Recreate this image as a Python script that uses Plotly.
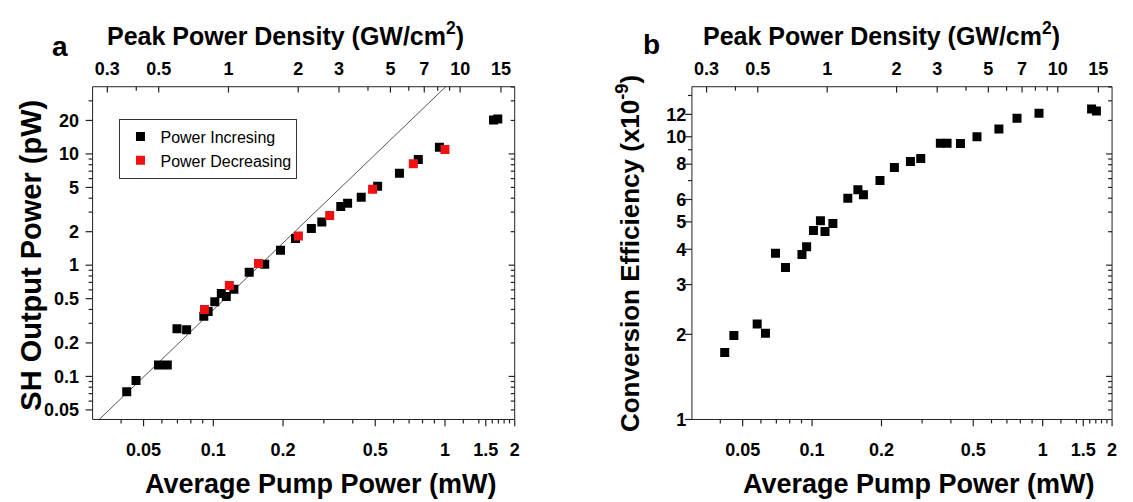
import numpy as np
import plotly.graph_objects as go

# ---------------- data ----------------
pump_inc = [0.0423, 0.0464, 0.0580, 0.0633, 0.0697, 0.0767, 0.0910, 0.0950, 0.1015,
            0.1083, 0.1138, 0.1227, 0.1429, 0.1667, 0.195, 0.2264, 0.265, 0.294,
            0.355, 0.380, 0.435, 0.512, 0.636, 0.767, 0.946, 1.62, 1.69]
sh_inc = [0.0729, 0.0917, 0.1267, 0.1267, 0.268, 0.263, 0.347, 0.384, 0.470,
          0.556, 0.523, 0.607, 0.863, 1.02, 1.364, 1.74, 2.14, 2.44,
          3.37, 3.61, 4.07, 5.13, 6.71, 8.92, 11.5, 20.2, 20.6]

pump_dec = [0.0916, 0.1173, 0.1567, 0.233, 0.318, 0.487, 0.730, 1.0]
sh_dec = [0.399, 0.658, 1.035, 1.83, 2.79, 4.82, 8.17, 10.97]

fit_coef = 39.6          # pW / mW^2  (quadratic guide line)
fit_x = [0.025, 1.2]

pump_eff = [0.0418, 0.0458, 0.0578, 0.0628, 0.0694, 0.0767, 0.0904, 0.0947, 0.1014,
            0.1087, 0.1138, 0.1231, 0.1429, 0.158, 0.167, 0.197, 0.2275, 0.267,
            0.296, 0.360, 0.385, 0.440, 0.519, 0.646, 0.774, 0.964, 1.63, 1.71]
eff = [1.726, 1.98, 2.175, 2.02, 3.87, 3.45, 3.83, 4.08, 4.66,
       5.05, 4.62, 4.93, 6.06, 6.50, 6.24, 7.00, 7.79, 8.17,
       8.37, 9.48, 9.48, 9.46, 10.0, 10.66, 11.64, 12.12, 12.54, 12.34]

density_per_mW = 8.6     # GW/cm^2 per mW

bottom_ticks = [0.05, 0.1, 0.2, 0.5, 1, 1.5, 2]
bottom_text = ["0.05", "0.1", "0.2", "0.5", "1", "1.5", "2"]
bottom_minor = [0.04, 0.06, 0.07, 0.08, 0.09, 0.3, 0.4, 0.6, 0.7, 0.8, 0.9,
                1.2, 1.4, 1.6, 1.7, 1.8, 1.9]
top_ticks = [0.3, 0.5, 1, 2, 3, 5, 7, 10, 15]
top_text = ["0.3", "0.5", "1", "2", "3", "5", "7", "10", "15"]
top_minor = [0.4, 4, 6, 8, 9]
sh_ticks = [0.05, 0.1, 0.2, 0.5, 1, 2, 5, 10, 20]
sh_text = ["0.05", "0.1", "0.2", "0.5", "1", "2", "5", "10", "20"]
sh_minor = [0.06, 0.07, 0.08, 0.09, 0.3, 0.4, 0.6, 0.7, 0.8, 0.9, 3, 4, 6, 7, 8, 9, 30]
eff_ticks = [1, 2, 3, 4, 5, 6, 8, 10, 12]
eff_text = ["1", "2", "3", "4", "5", "6", "8", "10", "12"]
eff_minor = [7, 9, 14]
mirror_major = [0.1, 1, 10]
mirror_minor = [m * d for d in (0.01, 0.1, 1, 10) for m in range(2, 10)]

# ---------------- geometry ----------------
W, H = 1133, 502
x_range = [-1.521, 0.301]
top_range = [x_range[0] + np.log10(density_per_mW), x_range[1] + np.log10(density_per_mW)]
sh_range = [-1.387, 1.604]
eff_range = [0.0, 1.177]
dom_a = [93 / W, 517 / W]
dom_b = [695 / W, 1117 / W]
dom_y = [1 - 428 / H, 1 - 88.5 / H]

FONT = "Liberation Sans, Arial, sans-serif"
tickfont = dict(family=FONT, size=18, color="black")
LINE = "#222222"
CLEAR = "rgba(0,0,0,0)"


def bold(labels):
    return ["<b>%s</b>" % t for t in labels]


def frac(v, rng):
    """position of a value along a log axis, as a fraction of the axis length"""
    return (np.log10(v) - rng[0]) / (rng[1] - rng[0])


fig = go.Figure()
fig.add_trace(go.Scatter(x=fit_x, y=[fit_coef * v ** 2 for v in fit_x], mode="lines",
                         line=dict(color="#555555", width=1), showlegend=False,
                         xaxis="x", yaxis="y", hoverinfo="skip"))
fig.add_trace(go.Scatter(x=pump_inc, y=sh_inc, mode="markers", name="Power Incresing",
                         marker=dict(symbol="square", size=9, color="black"),
                         xaxis="x", yaxis="y"))
fig.add_trace(go.Scatter(x=pump_dec, y=sh_dec, mode="markers", name="Power Decreasing",
                         marker=dict(symbol="square", size=9, color="#ee1111"),
                         xaxis="x", yaxis="y"))
fig.add_trace(go.Scatter(x=pump_eff, y=eff, mode="markers", showlegend=False,
                         marker=dict(symbol="square", size=9, color="black"),
                         xaxis="x2", yaxis="y2"))
# invisible carriers for the separate top-axis subplots
for xa, ya in (("x3", "y3"), ("x4", "y4")):
    fig.add_trace(go.Scatter(x=[1], y=[1], mode="markers", marker=dict(opacity=0),
                             showlegend=False, hoverinfo="skip", xaxis=xa, yaxis=ya))

# ---- tick marks, placed from the tick arrays along each axis (pixel overlay) ----
tx, ty = [], []
y_bot, y_top = dom_y[0] * H, dom_y[1] * H          # measured from the bottom


def seg(x0, y0, x1, y1):
    tx.extend([x0, x1, None])
    ty.extend([y0, y1, None])


MAJ, MIN = 7, 4
for dom, lrng, lmaj, lmin in ((dom_a, sh_range, sh_ticks, sh_minor),
                              (dom_b, eff_range, eff_ticks, eff_minor)):
    xl, xr = dom[0] * W, dom[1] * W
    pw, ph = xr - xl, y_top - y_bot
    for vals, ln in ((bottom_ticks, MAJ), (bottom_minor, MIN)):      # bottom, outside
        for v in vals:
            f = frac(v, x_range)
            if 0 <= f <= 1.001:
                seg(xl + f * pw, y_bot, xl + f * pw, y_bot - ln)
    for vals, ln in ((top_ticks, MAJ - 1), (top_minor, MIN)):        # top, inside
        for v in vals:
            f = frac(v, top_range)
            if 0 <= f <= 1.001:
                seg(xl + f * pw, y_top, xl + f * pw, y_top - ln)
    for vals, ln in ((lmaj, MAJ), (lmin, MIN)):                      # left, outside
        for v in vals:
            f = frac(v, lrng)
            if -0.001 <= f <= 1.001:
                seg(xl, y_bot + f * ph, xl - ln, y_bot + f * ph)
    for vals, ln in ((mirror_major, MAJ - 1), (mirror_minor, MIN)):  # right, inside
        for v in vals:
            f = frac(v, sh_range)
            if -0.001 <= f <= 1.001:
                seg(xr, y_bot + f * ph, xr - ln, y_bot + f * ph)

fig.add_trace(go.Scatter(x=tx, y=ty, mode="lines", line=dict(color=LINE, width=1.2),
                         showlegend=False, hoverinfo="skip", xaxis="x5", yaxis="y5",
                         connectgaps=False, cliponaxis=False))


def label_axis(dom, anchor, rng, vals, text, side, pad):
    return dict(domain=dom, anchor=anchor, type="log", range=rng, tickmode="array",
                tickvals=vals, ticktext=bold(text), ticks="outside", ticklen=pad,
                tickcolor=CLEAR, showline=False, showgrid=False, zeroline=False,
                tickfont=tickfont, side=side)


def hidden_axis(dom, anchor, rng=(0, 2)):
    return dict(domain=dom, anchor=anchor, visible=False, range=list(rng),
                showgrid=False, zeroline=False)


shapes = []
for xa, ya in (("x", "y"), ("x2", "y2")):
    shapes.append(dict(type="rect", xref=xa + " domain", yref=ya + " domain",
                       x0=0, x1=1, y0=0, y1=1,
                       line=dict(color=LINE, width=1), fillcolor=CLEAR))


def ann(text, x, y, size, angle=0):
    return dict(text=text, x=x / W, y=1 - y / H, xref="paper", yref="paper",
                xanchor="center", yanchor="middle", showarrow=False, textangle=angle,
                font=dict(family=FONT, size=size, color="black"))


fig.update_layout(
    width=W, height=H, autosize=False,
    margin=dict(l=0, r=0, t=0, b=0),
    paper_bgcolor="white", plot_bgcolor="rgba(0,0,0,0)",
    xaxis=label_axis(dom_a, "y", x_range, bottom_ticks, bottom_text, "bottom", 14),
    xaxis2=label_axis(dom_b, "y2", x_range, bottom_ticks, bottom_text, "bottom", 14),
    yaxis=label_axis(dom_y, "x", sh_range, sh_ticks, sh_text, "left", 9),
    yaxis2=label_axis(dom_y, "x2", eff_range, eff_ticks, eff_text, "left", 1),
    xaxis3=label_axis(dom_a, "y3", top_range, top_ticks, top_text, "top", 4),
    yaxis3=hidden_axis(dom_y, "x3"),
    xaxis4=label_axis(dom_b, "y4", top_range, top_ticks, top_text, "top", 4),
    yaxis4=hidden_axis(dom_y, "x4"),
    xaxis5=hidden_axis([0, 1], "y5", (0, W)),
    yaxis5=hidden_axis([0, 1], "x5", (0, H)),
    shapes=shapes,
    legend=dict(x=120 / W, y=1 - 121 / H, xanchor="left", yanchor="top",
                bordercolor="#333333", borderwidth=1, bgcolor="white",
                font=dict(family=FONT, size=16, color="black"),
                tracegroupgap=0, itemwidth=30),
    annotations=[
        ann("<b>Average Pump Power (mW)</b>", 322, 494, 27),
        ann("<b>Average Pump Power (mW)</b>", 923, 494, 27),
        ann("<b>Peak Power Density (GW/cm<sup>2</sup>)</b>", 287, 35, 25),
        ann("<b>Peak Power Density (GW/cm<sup>2</sup>)</b>", 885, 35, 25),
        ann("<b>SH Output Power (pW)</b>", 31, 260, 29, -90),
        ann("<b>Conversion Efficiency (x10<sup>-9</sup>)</b>", 632, 259, 26, -90),
        ann("<b>a</b>", 60, 47, 28),
        ann("<b>b</b>", 654, 45, 28),
    ],
    showlegend=True,
)

fig.write_html("out.html")
